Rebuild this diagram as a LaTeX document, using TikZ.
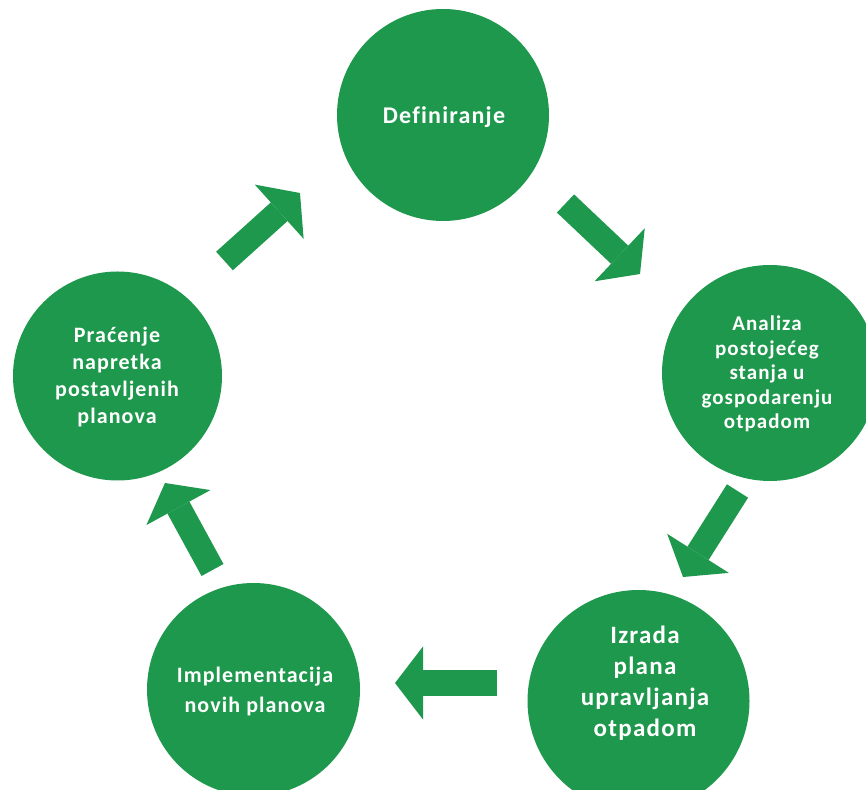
\documentclass[tikz,border=0pt]{standalone}
\usepackage{fontspec}
\setmainfont{Carlito}
\newfontfamily\lblfont[LetterSpace=5,Ligatures=NoCommon]{Carlito}
\usetikzlibrary{arrows.meta}
\definecolor{cgreen}{RGB}{30,152,76}
\begin{document}
\begin{tikzpicture}[x=1pt,y=1pt,
  stage/.style={circle,fill=cgreen,draw=none,inner sep=0pt},
  lbl/.style={text=white,align=center,inner sep=0pt},
  blockarrow/.style={draw=cgreen,line width=25pt,line cap=butt,
    -{Triangle[width=73pt,length=28pt,line width=0pt,fill=cgreen,color=cgreen]}}]
\clip (0,0) rectangle (866,789);
\fill[white] (0,0) rectangle (866,789);
% circles
\node[stage,minimum size=212pt] (c1) at (443,674) {};
\node[stage,minimum size=216pt] (c2) at (770,416) {};
\node[stage,minimum size=222pt] (c3) at (638.5,88) {};
\node[stage,minimum size=213pt] (c4) at (253.5,99.5) {};
\node[stage,minimum size=209pt] (c5) at (117.5,413) {};
% labels
\node[lbl,font=\lblfont\bfseries\fontsize{24}{28}\selectfont] (t1) at (444,672) {Definiranje};
\node[lbl,font=\lblfont\bfseries\fontsize{21}{24.5}\selectfont] (t2) at (767,415) {Analiza\\postojećeg\\stanja u\\gospodarenju\\otpadom};
\node[lbl,font=\lblfont\bfseries\fontsize{25}{31}\selectfont] (t3) at (645,106) {Izrada\\plana\\upravljanja\\otpadom};
\node[lbl,font=\lblfont\bfseries\fontsize{22}{30}\selectfont] (t4) at (255,97) {Implementacija\\novih planova};
\node[lbl,font=\lblfont\bfseries\fontsize{22}{27}\selectfont] (t5) at (117,412) {Praćenje\\napretka\\postavljenih\\planova};
% arrow end points
\coordinate (a1s) at (565.5,585.5); \coordinate (a1e) at (640,515);
\coordinate (a2s) at (224.5,528);   \coordinate (a2e) at (300,596);
\coordinate (a3s) at (737.5,298);   \coordinate (a3e) at (683,212);
\coordinate (a4s) at (497,106);     \coordinate (a4e) at (395,106);
\coordinate (a5s) at (212.5,219);   \coordinate (a5e) at (165,306);
\draw[blockarrow] (a1s) -- (a1e);
\draw[blockarrow] (a3s) -- (a3e);
\draw[blockarrow] (a4s) -- (a4e);
\draw[blockarrow] (a5s) -- (a5e);
\draw[blockarrow] (a2s) -- (a2e);
\end{tikzpicture}
\end{document}
